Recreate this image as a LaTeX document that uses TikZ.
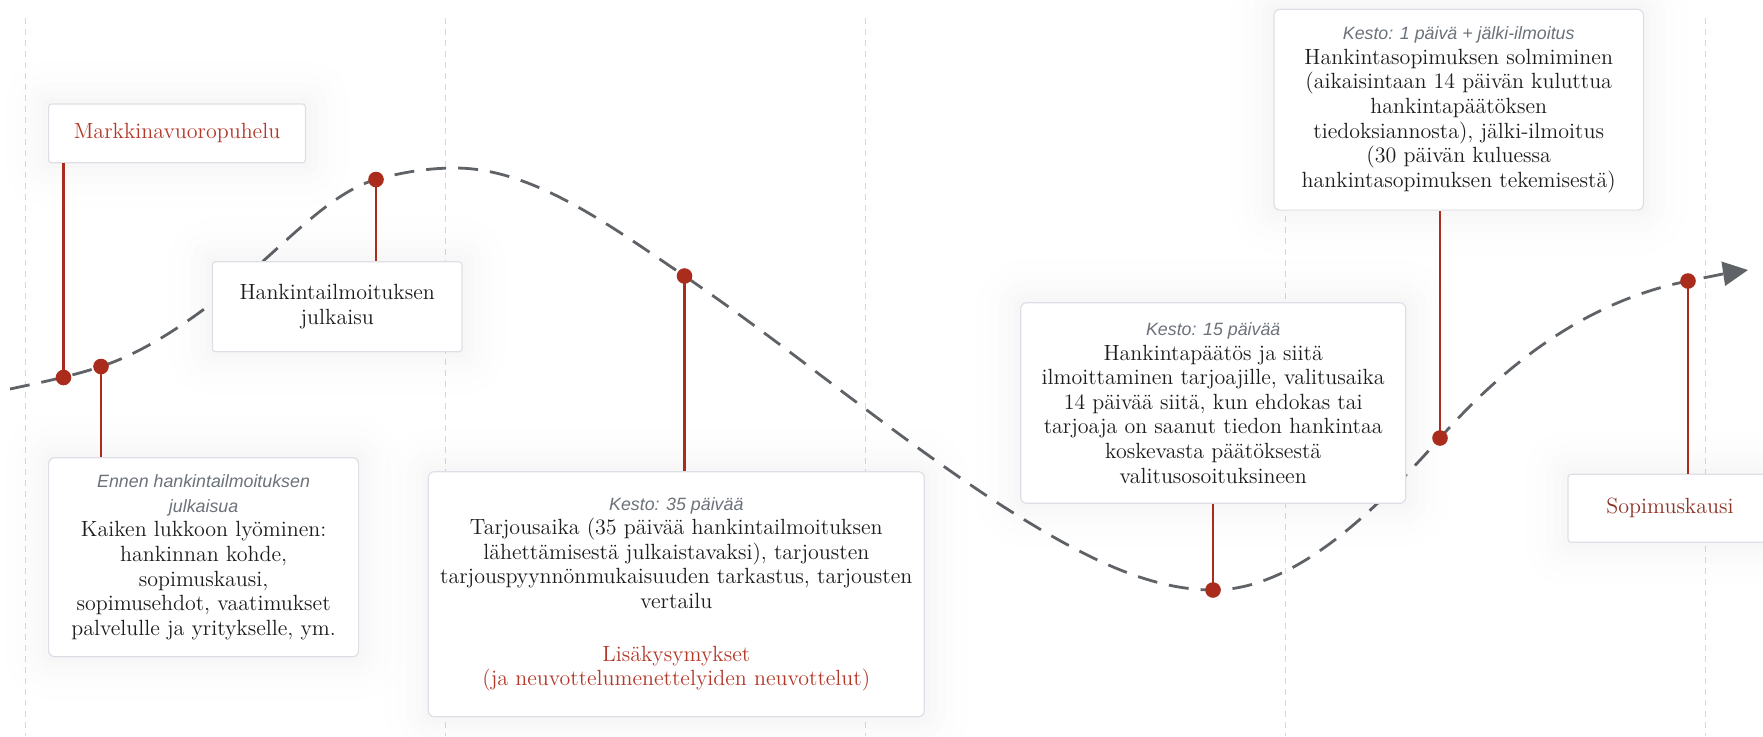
\documentclass[tikz,border=0pt]{standalone}
\usepackage{fontspec}
\usepackage{tikz}
\usetikzlibrary{arrows.meta}

\newfontfamily\kestofont{Liberation Sans}

\definecolor{kayra}{RGB}{95,99,104}
\definecolor{piste}{RGB}{170,44,28}
\definecolor{punainen}{RGB}{180,56,42}
\definecolor{tummapun}{RGB}{142,50,38}
\definecolor{harmaa}{RGB}{108,114,122}
\definecolor{teksti}{RGB}{28,28,28}
\definecolor{reuna}{RGB}{220,224,230}
\definecolor{ruutu}{RGB}{212,217,223}

\tikzset{
  kortti/.style={draw=reuna, fill=white, line width=0.6pt, rounded corners=3pt,
    align=center, inner sep=0pt, text=teksti, font=\fontsize{11}{12.3}\selectfont,
    preaction={draw=black, draw opacity=0.004, line width=44pt},
    preaction={draw=black, draw opacity=0.005, line width=32pt},
    preaction={draw=black, draw opacity=0.006, line width=22pt},
    preaction={draw=black, draw opacity=0.007, line width=13pt},
    preaction={draw=black, draw opacity=0.008, line width=6pt}},
  tikku/.style={draw=piste, line width=1.25pt},
  piste/.style={fill=piste},
  ruudukko/.style={draw=ruutu, line width=0.5pt, dash pattern=on 3pt off 2.5pt},
  kayraviiva/.style={draw=kayra, line width=1.4pt, dash pattern=on 10pt off 6pt},
}
\newcommand{\kesto}[1]{{\kestofont\itshape\fontsize{8.9}{11}\selectfont\color{harmaa}#1}}

\begin{document}
\begin{tikzpicture}[x=0.5pt,y=0.5pt,yscale=-1,xscale=1]
\useasboundingbox (0,0) rectangle (1763,736);
\clip (0,0) rectangle (1763,736);

%Straight Lines: grid
\foreach \gx in {25,445,865,1285,1705}
  \draw[ruudukko] (\gx,18) -- (\gx,736);

% points on the curve
\coordinate (p1) at (63.5,377.5);
\coordinate (p2) at (101,366.5);
\coordinate (p3) at (376,179.5);
\coordinate (p4) at (684.5,276);
\coordinate (p5) at (1213,590);
\coordinate (p6) at (1440,438);
\coordinate (p7) at (1688,281);

%Curve
\draw[kayraviiva, -{Triangle[length=12.5pt,width=12pt]}] (10,389)
  .. controls (40.3,382.5) and (70.7,376.5) .. (p2)
  .. controls (147.3,351.2) and (193.7,319) .. (240,281)
  .. controls (285.3,243.9) and (330.7,192.2) .. (p3)
  .. controls (402.3,172.1) and (428.7,168) .. (455,168)
  .. controls (531.5,168) and (608,224) .. (p4)
  .. controls (800.7,355) and (916.8,455.3) .. (1033,525)
  .. controls (1093,561) and (1153,590) .. (p5)
  .. controls (1288.7,590) and (1364.3,523.5) .. (p6)
  .. controls (1522.7,344.6) and (1605.3,297.5) .. (p7)
  .. controls (1708,277) and (1728,273) .. (1748,270);

% Text Node
\node[kortti, rounded corners=1.5pt, minimum width=128.4pt, minimum height=29.4pt, text=punainen] (markkina) at (177,133.4) {Markkinavuoropuhelu};
% Text Node
\node[kortti, rounded corners=1.5pt, minimum width=124.8pt, minimum height=45pt] (ilmoitus) at (337.2,306.7) {Hankintailmoituksen\\julkaisu};
% Text Node
\node[kortti, minimum width=155pt, minimum height=99.5pt] (ennen) at (203.6,557.2) {\kesto{Ennen hankintailmoituksen}\\\kesto{julkaisua}\\Kaiken lukkoon lyöminen:\\hankinnan kohde,\\sopimuskausi,\\sopimusehdot, vaatimukset\\palvelulle ja yritykselle, ym.};
% Text Node
\node[kortti, minimum width=248pt, minimum height=122.5pt] (tarjous) at (676.3,594.2) {\kesto{Kesto: 35 päivää}\\Tarjousaika (35 päivää hankintailmoituksen\\lähettämisestä julkaistavaksi), tarjousten\\tarjouspyynnönmukaisuuden tarkastus, tarjousten\\vertailu\\[14pt]\textcolor{punainen}{Lisäkysymykset}\\\textcolor{punainen}{(ja neuvottelumenettelyiden neuvottelut)}};
% Text Node
\node[kortti, minimum width=192.5pt, minimum height=100.3pt] (paatos) at (1213.2,403) {\kesto{Kesto: 15 päivää}\\Hankintapäätös ja siitä\\ilmoittaminen tarjoajille, valitusaika\\14 päivää siitä, kun ehdokas tai\\tarjoaja on saanut tiedon hankintaa\\koskevasta päätöksestä\\valitusosoituksineen};
% Text Node
\node[kortti, minimum width=184.7pt, minimum height=100.4pt] (solmiminen) at (1458.7,109.7) {\kesto{Kesto: 1 päivä + jälki-ilmoitus}\\Hankintasopimuksen solmiminen\\(aikaisintaan 14 päivän kuluttua\\hankintapäätöksen\\tiedoksiannosta), jälki-ilmoitus\\(30 päivän kuluessa\\hankintasopimuksen tekemisestä)};
% Text Node
\node[kortti, rounded corners=1.5pt, minimum width=102pt, minimum height=34pt, text=tummapun] (sopimus) at (1670,508.3) {Sopimuskausi};

%Straight Lines: pins
\draw[tikku] (p1) -- (p1 |- markkina.south);
\draw[tikku] (p2) -- (p2 |- ennen.north);
\draw[tikku] (p3) -- (p3 |- ilmoitus.north);
\draw[tikku] (p4) -- (p4 |- tarjous.north);
\draw[tikku] (p5) -- (p5 |- paatos.south);
\draw[tikku] (p6) -- (p6 |- solmiminen.south);
\draw[tikku] (p7) -- (p7 |- sopimus.north);

%Shape: dots
\foreach \p in {p1,p2,p3,p4,p5,p6,p7}
  \fill[piste] (\p) circle[radius=3.9pt];

\end{tikzpicture}
\end{document}
